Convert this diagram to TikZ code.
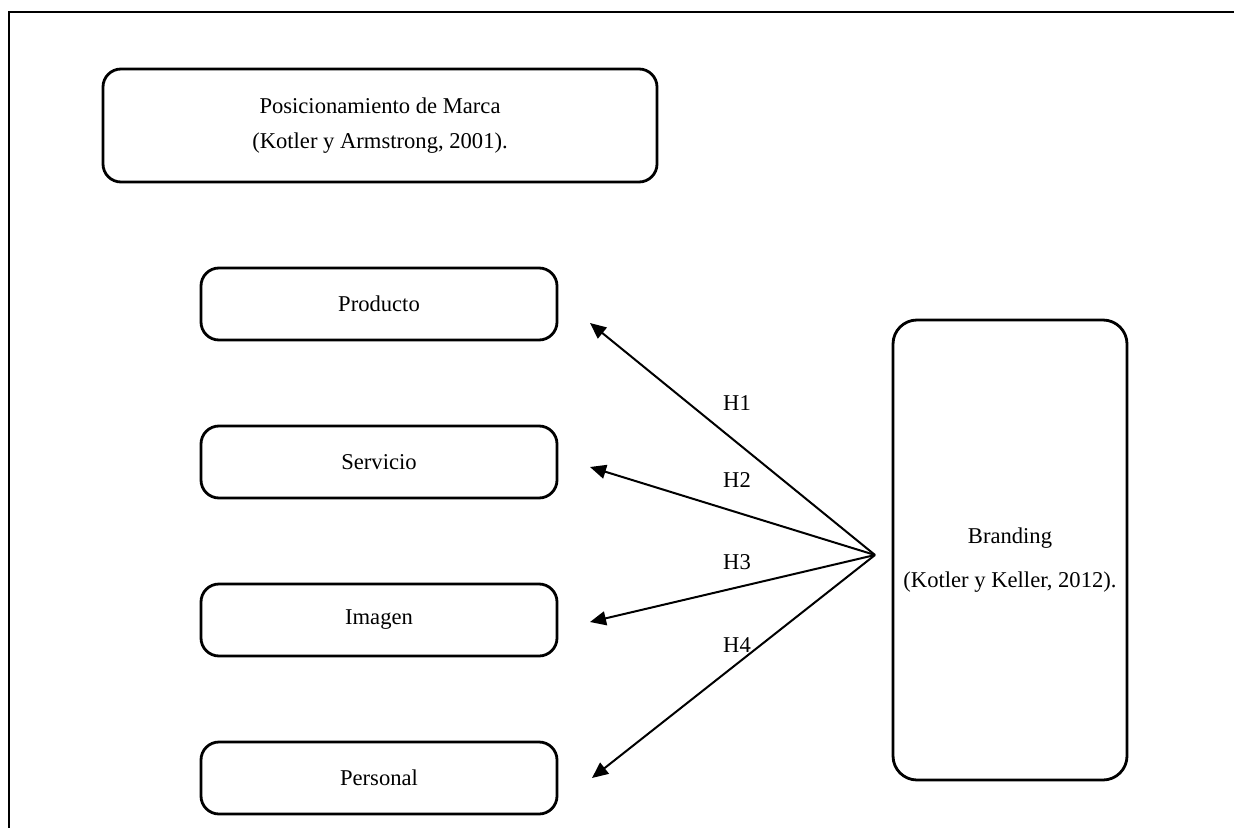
\documentclass[tikz,border=0pt]{standalone}
\usepackage{fontspec}
\setmainfont{Liberation Serif}
\usetikzlibrary{arrows.meta,positioning}

\begin{document}
\begin{tikzpicture}[x=0.5pt, y=-0.5pt, node distance=43pt, box/.style={draw, line width=1.4pt, rounded corners=9pt, align=center, font=\fontsize{11.3}{17.5}\selectfont, inner sep=4pt, outer sep=0pt}, item/.style={box, minimum width=178pt, minimum height=36pt}, arr/.style={line width=1pt, -{Triangle[length=8pt,width=7pt]}}, hyp/.style={font=\fontsize{11.3}{14}\selectfont, inner sep=1pt}]
\useasboundingbox (0,0) rectangle (1234,828);
\draw[line width=1.4pt] (9,828) -- (9,12) -- (1234,12);
\node[box, minimum width=277pt, minimum height=56.5pt] (pos) at (380,125.5) {Posicionamiento de Marca\\(Kotler y Armstrong, 2001).};
\node[item] (prod) at (379,304) {Producto};
\node[item, below=of prod] (serv) {Servicio};
\node[item, below=of serv] (img) {Imagen};
\node[item, below=of img] (pers) {Personal};
\node[box, minimum width=117pt, minimum height=230pt, rounded corners=12pt] (brand) at (1010,550) {\rule{0pt}{18pt}Branding\\[4.5pt](Kotler y Keller, 2012).};
% hypotheses fan out from one point left of Branding
\coordinate (hub) at (875,555);
\coordinate (t1) at (590,323); \coordinate (t2) at (590,467); \coordinate (t3) at (590,622); \coordinate (t4) at (592,778);
\draw[arr] (hub) -- (t1); \draw[arr] (hub) -- (t2); \draw[arr] (hub) -- (t3); \draw[arr] (hub) -- (t4);
\node[hyp] (h1) at (737,403) {H1};
\node[hyp] (h2) at (737,480) {H2};
\node[hyp] (h3) at (737,562) {H3};
\node[hyp] (h4) at (737,645) {H4};
\end{tikzpicture}
\end{document}
